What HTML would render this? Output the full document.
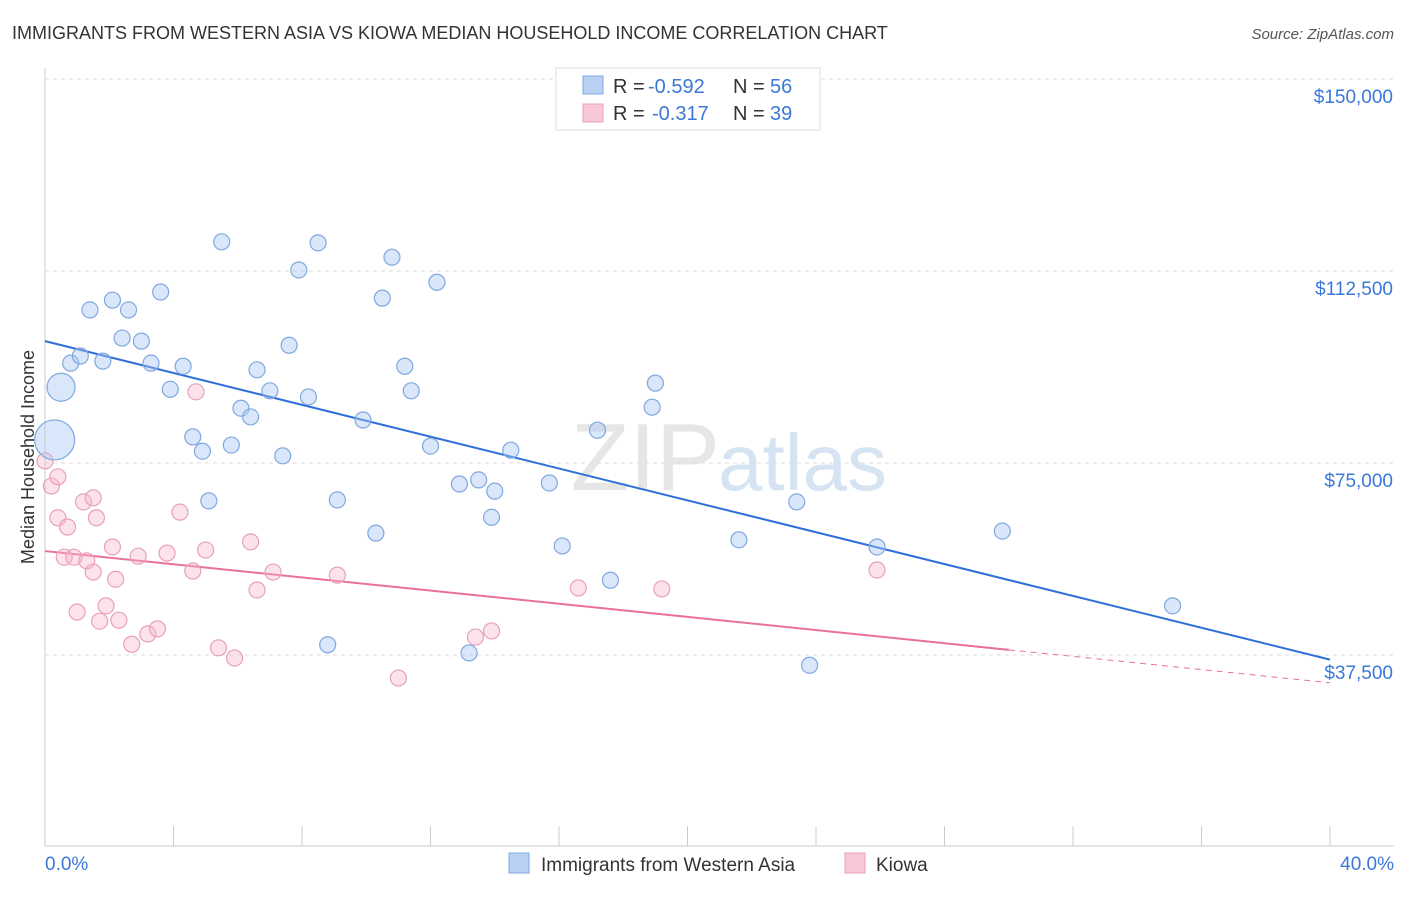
<!DOCTYPE html>
<html><head><meta charset="utf-8"><style>
body{margin:0;background:#fff;font-family:"Liberation Sans",sans-serif;}
svg text{font-family:"Liberation Sans",sans-serif;}
</style></head><body>
<svg id="chart" width="1406" height="892" xmlns="http://www.w3.org/2000/svg">
<text x="12" y="39" font-size="18" fill="#333">IMMIGRANTS FROM WESTERN ASIA VS KIOWA MEDIAN HOUSEHOLD INCOME CORRELATION CHART</text>
<text x="1394" y="39" font-size="15" fill="#555" font-style="italic" text-anchor="end">Source: ZipAtlas.com</text>
<text x="720" y="490" font-size="96" fill="#e6e6e6" text-anchor="end" font-family="Liberation Serif">ZIP</text>
<text x="718" y="490" font-size="80" fill="#d6e3f3">atlas</text>
<text x="34" y="457" font-size="18" fill="#333" text-anchor="middle" transform="rotate(-90 34 457)">Median Household Income</text>
<g id="grid"></g><g id="axes"></g><g id="lines"></g><g id="pts"></g>
<g>
<rect x="556" y="68" width="264" height="62" fill="#fff" stroke="#ddd"/>
<rect x="583" y="76" width="20" height="18" fill="#b9d0f3" stroke="#7fa8e0"/>
<text x="613" y="93" font-size="20" fill="#333">R =</text>
<text x="648" y="93" font-size="20" fill="#3b78d8">-0.592</text>
<text x="733" y="93" font-size="20" fill="#333">N =</text>
<text x="770" y="93" font-size="20" fill="#3b78d8">56</text>
<rect x="583" y="104" width="20" height="18" fill="#f9c8d6" stroke="#e9a0b8"/>
<text x="613" y="120" font-size="20" fill="#333">R =</text>
<text x="652" y="120" font-size="20" fill="#3b78d8">-0.317</text>
<text x="733" y="120" font-size="20" fill="#333">N =</text>
<text x="770" y="120" font-size="20" fill="#3b78d8">39</text>
</g>
<rect x="509" y="853" width="20" height="20" fill="#b9d0f3" stroke="#7fa8e0"/>
<text x="541" y="871" font-size="19" fill="#333">Immigrants from Western Asia</text>
<rect x="845" y="853" width="20" height="20" fill="#f9c8d6" stroke="#e9a0b8"/>
<text x="876" y="871" font-size="19" fill="#333">Kiowa</text>
</svg>
<script>
const yTicks=[37500,75000,112500,150000];
const yTickLabels=["$37,500","$75,000","$112,500","$150,000"];
const xTickLabels=["0.0%","40.0%"];
const blueX=[0.3,0.5,0.8,1.1,1.4,1.8,2.1,2.4,2.6,3.0,3.3,3.6,3.9,4.3,4.6,4.9,5.1,5.5,5.8,6.1,6.4,6.6,7.0,7.4,7.6,7.9,8.2,8.5,8.8,9.1,9.9,10.3,10.5,10.8,11.2,11.4,12.0,12.2,12.9,13.2,13.5,13.9,14.0,14.5,15.7,16.1,17.2,17.6,18.9,19.0,21.6,23.4,23.8,25.9,29.8,35.1];
const blueY=[79500,89800,94500,95900,104900,94900,106800,99400,104900,98800,94500,108400,89400,93900,80100,77300,67600,118200,78500,85700,84000,93200,89100,76400,98000,112700,87900,118000,39500,67800,83400,61300,107200,115200,93900,89100,78300,110300,70900,37900,71700,64400,69500,77500,71100,58800,81400,52100,85900,90600,60000,67400,35500,58600,61700,47100];
const blueSize=[20,14];
const pinkX=[0,0.2,0.4,0.4,0.7,0.6,0.9,1.0,1.2,1.3,1.5,1.5,1.6,1.7,1.9,2.1,2.2,2.3,2.7,2.9,3.2,3.5,3.8,4.2,4.6,4.7,5.0,5.4,5.9,6.4,6.6,7.1,9.1,11.0,13.4,13.9,16.6,19.2,25.9];
const pinkY=[75400,70500,72300,64300,62500,56600,56600,45900,67400,55900,53700,68200,64300,44100,47100,58600,52300,44300,39600,56800,41600,42600,57400,65400,53900,88900,58000,38900,36900,59600,50200,53700,53100,33000,41000,42200,50600,50400,54100];
const blueTrend=[98800,36600];
const pinkTrend=[57800,32080];
const pinkSolidEnd=30;
const NS="http://www.w3.org/2000/svg";
const sx=v=>45+(v/40)*1285;
const sy=v=>847-(v/37500)*192;
function mk(tag,attrs,parent){const e=document.createElementNS(NS,tag);for(const k in attrs)e.setAttribute(k,attrs[k]);document.getElementById(parent).appendChild(e);return e;}
yTicks.forEach((t,i)=>{
 const g=mk('line',{x1:45,x2:1394,y1:sy(t),y2:sy(t),stroke:'#ddd','stroke-dasharray':'4,4'},'grid');
 
 
 const l=mk('text',{x:1393,y:sy(t)+24,'font-size':19,fill:'#3b78d8','text-anchor':'end'},'axes');
 l.textContent=yTickLabels[i];
 
 
});
const ax=mk('line',{x1:45,x2:45,y1:68,y2:846,stroke:'#ccc'},'axes');


const bx=mk('line',{x1:45,x2:1394,y1:846,y2:846,stroke:'#ccc'},'axes');


for(let i=0;i<=10;i++){
 const t=mk('line',{x1:sx(i*4),x2:sx(i*4),y1:826,y2:846,stroke:'#ccc'},'axes');
 
 
}
[[0,'start',45],[40,'end',1394]].forEach((d,i)=>{
 const l=mk('text',{x:d[2],y:870,'font-size':19,fill:'#3b78d8','text-anchor':d[1]},'axes');
 l.textContent=xTickLabels[i];
 
 
});
const bl=mk('line',{x1:sx(0),y1:sy(blueTrend[0]),x2:sx(40),y2:sy(blueTrend[1]),stroke:'#2f6fd8','stroke-width':2},'lines');


const pm=pinkTrend[0]+(pinkTrend[1]-pinkTrend[0])*pinkSolidEnd/40;
const pl=mk('line',{x1:sx(0),y1:sy(pinkTrend[0]),x2:sx(pinkSolidEnd),y2:sy(pm),stroke:'#e8709a','stroke-width':2},'lines');


const pd=mk('line',{x1:sx(pinkSolidEnd),y1:sy(pm),x2:sx(40),y2:sy(pinkTrend[1]),stroke:'#e8709a','stroke-width':1,'stroke-dasharray':'6,5'},'lines');


pinkX.forEach((x,i)=>{
 const c=mk('circle',{cx:sx(x),cy:sy(pinkY[i]),r:8,fill:'rgba(246,182,202,0.38)',stroke:'#e9a0b8','stroke-width':1.2},'pts');
 
 
});
blueX.forEach((x,i)=>{
 const c=mk('circle',{cx:sx(x),cy:sy(blueY[i]),r:blueSize[i]||8,fill:'rgba(166,196,240,0.42)',stroke:'#7fa8e0','stroke-width':1.2},'pts');
 
 
});
</script>
</body></html>
